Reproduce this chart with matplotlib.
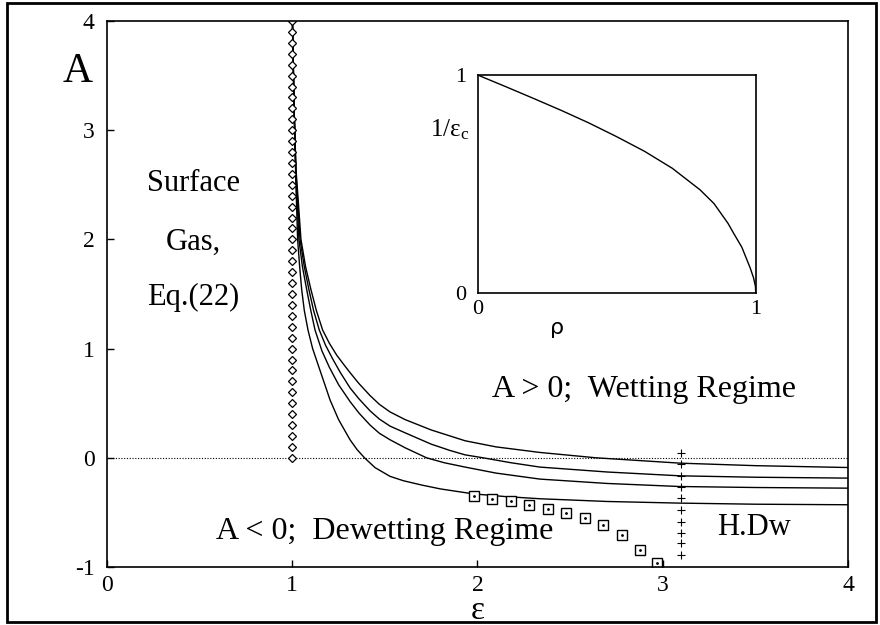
import matplotlib
matplotlib.use("Agg")
import matplotlib.pyplot as plt
from matplotlib.patches import Rectangle

plt.rcParams['font.family'] = ['Liberation Serif', 'DejaVu Serif']
plt.rcParams['mathtext.fontset'] = 'stix'
plt.rcParams['axes.unicode_minus'] = False

# four A(eps) curves (top curve first at large eps)
eps1 = [1.001, 1.01, 1.02, 1.047, 1.072, 1.101, 1.13, 1.164, 1.2, 1.24, 1.28, 1.312, 1.36, 1.42,
        1.47, 1.528, 1.609, 1.75, 1.933, 2.1, 2.337, 2.64, 3.093, 3.5, 4.0]
A1 = [4.0, 3.2, 2.65, 2.0, 1.75, 1.54, 1.35, 1.17, 1.05, 0.94, 0.85, 0.78, 0.68, 0.57,
      0.49, 0.42, 0.35, 0.255, 0.156, 0.1, 0.049, 0.0, -0.049, -0.072, -0.089]
eps2 = [1.001, 1.01, 1.02, 1.042, 1.065, 1.09, 1.115, 1.146, 1.18, 1.22, 1.26, 1.312, 1.36, 1.42,
        1.47, 1.528, 1.609, 1.75, 1.85, 1.933, 2.03, 2.18, 2.337, 2.7, 3.093, 3.5, 4.0]
A2 = [4.0, 3.2, 2.6, 2.0, 1.75, 1.54, 1.35, 1.17, 1.03, 0.9, 0.78, 0.64, 0.54, 0.43,
      0.355, 0.29, 0.229, 0.125, 0.068, 0.027, 0.0, -0.045, -0.085, -0.13, -0.165, -0.178, -0.186]
eps3 = [1.001, 1.01, 1.02, 1.036, 1.055, 1.078, 1.1, 1.123, 1.16, 1.2, 1.25, 1.312, 1.36, 1.42,
        1.47, 1.528, 1.609, 1.725, 1.82, 1.933, 2.1, 2.337, 2.7, 3.093, 3.5, 4.0]
A3 = [4.0, 3.2, 2.55, 2.0, 1.75, 1.54, 1.35, 1.17, 0.98, 0.83, 0.67, 0.515, 0.41, 0.3,
      0.225, 0.165, 0.092, 0.0, -0.045, -0.085, -0.14, -0.195, -0.235, -0.263, -0.272, -0.278]
eps4 = [1.001, 1.01, 1.02, 1.029, 1.04, 1.051, 1.065, 1.085, 1.11, 1.15, 1.18, 1.204, 1.25, 1.312,
        1.35, 1.39, 1.447, 1.528, 1.6, 1.7, 1.8, 1.976, 2.15, 2.337, 2.7, 3.093, 3.5, 4.0]
A4 = [4.0, 3.2, 2.5, 2.0, 1.75, 1.54, 1.35, 1.17, 1.0, 0.8, 0.65, 0.53, 0.35, 0.165,
      0.075, 0.0, -0.09, -0.17, -0.21, -0.25, -0.285, -0.33, -0.355, -0.375, -0.4, -0.415, -0.425, -0.43]

# surface gas boundary (diamonds at eps = 1)
gas_A = [0.0, 0.1, 0.2, 0.3, 0.4, 0.5, 0.6, 0.7, 0.8, 0.9, 1.0, 1.1, 1.2, 1.3, 1.4,
         1.5, 1.6, 1.7, 1.8, 1.9, 2.0, 2.1, 2.2, 2.3, 2.4, 2.5, 2.6, 2.7, 2.8, 2.9,
         3.0, 3.1, 3.2, 3.3, 3.4, 3.5, 3.6, 3.7, 3.8, 3.9, 4.0]
gas_eps = [1.0] * len(gas_A)

# squares
sq_eps = [1.98, 2.08, 2.18, 2.28, 2.38, 2.48, 2.58, 2.68, 2.78, 2.88, 2.97]
sq_A = [-0.354, -0.373, -0.397, -0.428, -0.47, -0.501, -0.552, -0.616, -0.708, -0.845, -0.964]

# H.Dw plus column
hdw_A = [0.043, -0.058, -0.166, -0.264, -0.365, -0.478, -0.586, -0.687, -0.784, -0.892]
hdw_eps = [3.1] * len(hdw_A)

# inset: 1/eps_c vs rho
rho = [0.0, 0.1, 0.2, 0.3, 0.4, 0.5, 0.6, 0.7, 0.8, 0.85, 0.9, 0.92, 0.95, 0.968, 0.98, 0.992, 0.999, 1.0]
inv_epsc = [1.0, 0.947, 0.893, 0.838, 0.78, 0.717, 0.65, 0.572, 0.473, 0.41, 0.32, 0.275, 0.21, 0.153, 0.115, 0.07, 0.03, 0.0]

fig = plt.figure(figsize=(8.8, 6.25), dpi=100)
fig.patches.append(Rectangle((0.008, 0.005), 0.988, 0.99, transform=fig.transFigure,
                             fill=False, edgecolor='black', linewidth=2))

ax = fig.add_axes([0.1216, 0.0928, 0.842, 0.8736])
ax.plot([0, 4], [0, 0], color='black', lw=0.8, ls=(0, (1, 1.5)))
for e, a in [(eps1, A1), (eps2, A2), (eps3, A3), (eps4, A4)]:
    ax.plot(e, a, color='black', lw=1.0)
ax.plot(gas_eps, gas_A, ls='none', marker='D', ms=4, mfc='white', mec='black', mew=0.9)
ax.plot(sq_eps, sq_A, ls='none', marker='s', ms=6.5, mfc='white', mec='black', mew=1.0)
ax.plot(sq_eps, sq_A, ls='none', marker='o', ms=1.0, color='black')
ax.plot(hdw_eps, hdw_A, ls='none', marker='+', ms=5.5, color='black', mew=0.8)

ax.set_xlim(0, 4)
ax.set_ylim(-1, 4)
ax.set_xticks([0, 1, 2, 3, 4])
ax.set_yticks([-1, 0, 1, 2, 3, 4])
ax.tick_params(direction='in', length=5, width=1, labelsize=17, top=False, right=False)
ax.tick_params(axis='y', pad=9)
ax.tick_params(axis='x', pad=6)
for s in ax.spines.values():
    s.set_linewidth(1.2)

ax.text(0.5, -0.095, 'ε', transform=ax.transAxes, ha='center', va='baseline', fontsize=24)
ax.text(-0.04, 0.888, 'A', transform=ax.transAxes, ha='center', va='baseline', fontsize=30)

ax.text(0.465, 2.44, 'Surface', ha='center', va='baseline', fontsize=22)
ax.text(0.465, 1.9, 'Gas,', ha='center', va='baseline', fontsize=22)
ax.text(0.465, 1.4, 'Eq.(22)', ha='center', va='baseline', fontsize=22)
ax.text(2.9, 0.56, 'A > 0;  Wetting Regime', ha='center', va='baseline', fontsize=23)
ax.text(2.41, -0.74, 'A < 0;  Dewetting Regime', ha='right', va='baseline', fontsize=23)
ax.text(3.69, -0.705, 'H.Dw', ha='right', va='baseline', fontsize=22)

ins = fig.add_axes([0.5428, 0.5312, 0.316, 0.3488])
ins.plot(rho, inv_epsc, color='black', lw=1.0)
ins.set_xlim(0, 1)
ins.set_ylim(0, 1)
ins.set_xticks([0, 1])
ins.set_yticks([0, 1])
ins.tick_params(length=0, labelsize=16)
ins.tick_params(axis='y', pad=8)
ins.tick_params(axis='x', pad=5)
for s in ins.spines.values():
    s.set_linewidth(1.2)
ins.text(-0.03, 0.75, r'$\mathregular{1/ε_{c}}$', transform=ins.transAxes,
         ha='right', va='center', fontsize=18)
ins.text(0.285, -0.16, 'ρ', transform=ins.transAxes, ha='center', va='center',
         fontsize=16, family=['DejaVu Sans'])

fig.savefig('out.png', dpi=100)
